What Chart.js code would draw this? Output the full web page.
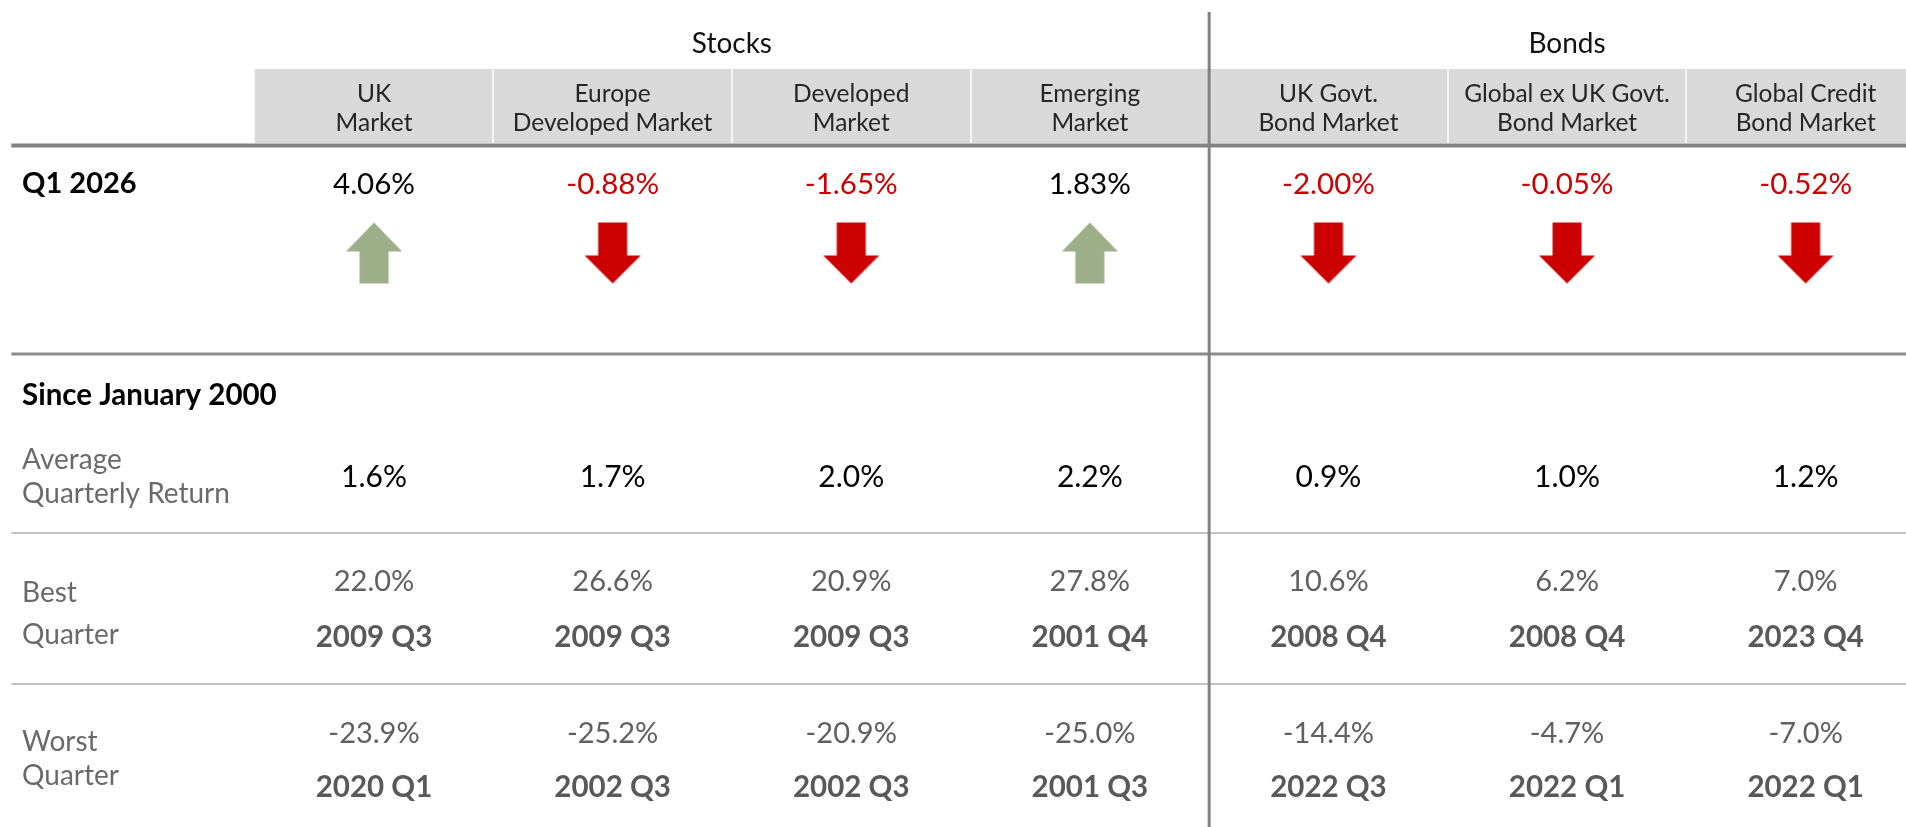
<!DOCTYPE html>
<html>
<head>
<meta charset="utf-8">
<script src="https://cdn.jsdelivr.net/npm/chart.js@4/dist/chart.umd.min.js"></script>
<style>
  html, body { margin: 0; padding: 0; background: #fff; }
  #wrap { width: 1906px; height: 827px; }
</style>
</head>
<body>
<div id="wrap"><canvas id="myChart" width="1906" height="827"></canvas></div>
<script>
// data
const groups = ['Stocks', 'Bonds'];
const groupCols = [[0, 3], [4, 6]];
const markets = [
  ['UK', 'Market'],
  ['Europe', 'Developed Market'],
  ['Developed', 'Market'],
  ['Emerging', 'Market'],
  ['UK Govt.', 'Bond Market'],
  ['Global ex UK Govt.', 'Bond Market'],
  ['Global Credit', 'Bond Market']
];
const q1Returns = [4.06, -0.88, -1.65, 1.83, -2.00, -0.05, -0.52];
const avgQuarterly = [1.6, 1.7, 2.0, 2.2, 0.9, 1.0, 1.2];
const bestQuarter = [22.0, 26.6, 20.9, 27.8, 10.6, 6.2, 7.0];
const bestQuarterDate = ['2009 Q3', '2009 Q3', '2009 Q3', '2001 Q4', '2008 Q4', '2008 Q4', '2023 Q4'];
const worstQuarter = [-23.9, -25.2, -20.9, -25.0, -14.4, -4.7, -7.0];
const worstQuarterDate = ['2020 Q1', '2002 Q3', '2002 Q3', '2001 Q3', '2022 Q3', '2022 Q1', '2022 Q1'];

// layout (y in row units, top = 0)
const rows = {
  group: 44, bandTop: 69, bandBottom: 143, head1: 94, head2: 123,
  rule1: 145.5, q1: 184, arrow: 253, rule2: 354, since: 395,
  avg: 477, avgL1: 460, avgL2: 494, thin1: 533,
  best: 582, bestDate: 637, bestL1: 593, bestL2: 635, thin2: 684,
  worst: 734, worstDate: 787, worstL1: 742, worstL2: 776, bottom: 827
};
const labelX = -1.475;
const ruleX = -1.52;
const FONT = 'Lato, "Noto Sans", sans-serif';
const RED = '#cc0000';
const GREEN = '#9caf88';

function makeArrow(up) {
  const c = document.createElement('canvas');
  c.width = 58; c.height = 63;
  const g = c.getContext('2d');
  g.fillStyle = up ? GREEN : RED;
  g.beginPath();
  if (up) {
    g.moveTo(29, 1); g.lineTo(57, 30); g.lineTo(43.5, 30); g.lineTo(43.5, 62);
    g.lineTo(14.5, 62); g.lineTo(14.5, 30); g.lineTo(1, 30);
  } else {
    g.moveTo(14.5, 1); g.lineTo(43.5, 1); g.lineTo(43.5, 34); g.lineTo(57, 34);
    g.lineTo(29, 62); g.lineTo(1, 34); g.lineTo(14.5, 34);
  }
  g.closePath();
  g.fill();
  return c;
}
const upArrow = makeArrow(true);
const downArrow = makeArrow(false);

const pct = (v, d) => v.toFixed(d) + '%';

const tablePlugin = {
  id: 'tableLayout',
  beforeDatasetsDraw(chart) {
    const { ctx, scales: { x, y }, width } = chart;
    const n = markets.length;
    const L = i => x.getPixelForValue(i - 0.5);
    const top = y.getPixelForValue(rows.bandTop);
    const h = y.getPixelForValue(rows.bandBottom) - top;
    ctx.save();
    // header band
    ctx.fillStyle = '#d9d9d9';
    ctx.fillRect(L(0), top, L(n) - L(0), h);
    ctx.fillStyle = '#f4f4f4';
    for (let i = 1; i < n; i++) {
      ctx.fillRect(Math.round(L(i)) - 1, top, 2, h);
    }
    // rules
    const hline = (yy, w, color) => {
      ctx.fillStyle = color;
      const p = y.getPixelForValue(yy);
      ctx.fillRect(x.getPixelForValue(ruleX), p - w / 2, width, w);
    };
    hline(rows.rule1, 4, '#828282');
    hline(rows.rule2, 3, '#8c8c8c');
    hline(rows.thin1, 2, '#c2c2c2');
    hline(rows.thin2, 2, '#c2c2c2');
    // divider between stocks and bonds
    ctx.fillStyle = '#828282';
    const dx = x.getPixelForValue(groupCols[1][0] - 0.5);
    ctx.fillRect(dx - 1.5, y.getPixelForValue(12), 3, y.getPixelForValue(rows.bottom) - y.getPixelForValue(12));
    ctx.restore();
  },
  afterDatasetsDraw(chart) {
    const { ctx, scales: { x, y } } = chart;
    const text = (s, xv, yv, font, color, align) => {
      ctx.font = font;
      ctx.fillStyle = color;
      ctx.textAlign = align || 'center';
      ctx.textBaseline = 'middle';
      ctx.fillText(s, x.getPixelForValue(xv), y.getPixelForValue(yv));
    };
    ctx.save();
    groups.forEach((g, k) => {
      const mid = (groupCols[k][0] + groupCols[k][1]) / 2;
      text(g, mid, rows.group, '28px ' + FONT, '#111');
    });
    markets.forEach((m, i) => {
      text(m[0], i, rows.head1, '24.5px ' + FONT, '#262626');
      text(m[1], i, rows.head2, '24.5px ' + FONT, '#262626');
      text(pct(q1Returns[i], 2), i, rows.q1, '29.5px ' + FONT, q1Returns[i] < 0 ? RED : '#000');
      text(pct(avgQuarterly[i], 1), i, rows.avg, '30px ' + FONT, '#000');
      text(pct(bestQuarter[i], 1), i, rows.best, '29px ' + FONT, '#606060');
      text(bestQuarterDate[i], i, rows.bestDate, 'bold 29.5px ' + FONT, '#595959');
      text(pct(worstQuarter[i], 1), i, rows.worst, '29px ' + FONT, '#606060');
      text(worstQuarterDate[i], i, rows.worstDate, 'bold 29.5px ' + FONT, '#595959');
    });
    text('Q1 2026', labelX, rows.q1, 'bold 29px ' + FONT, '#000', 'left');
    text('Since January 2000', labelX, rows.since, 'bold 29.5px ' + FONT, '#000', 'left');
    const lab = '28px ' + FONT, labC = '#6a6a6a';
    text('Average', labelX, rows.avgL1, lab, labC, 'left');
    text('Quarterly Return', labelX, rows.avgL2, lab, labC, 'left');
    text('Best', labelX, rows.bestL1, lab, labC, 'left');
    text('Quarter', labelX, rows.bestL2, lab, labC, 'left');
    text('Worst', labelX, rows.worstL1, lab, labC, 'left');
    text('Quarter', labelX, rows.worstL2, lab, labC, 'left');
    ctx.restore();
  }
};

const config = {
  type: 'scatter',
  data: {
    datasets: [{
      label: 'Q1 2026 direction',
      data: q1Returns.map((v, i) => ({ x: i, y: rows.arrow })),
      pointStyle: ctx => q1Returns[ctx.dataIndex] >= 0 ? upArrow : downArrow,
      pointRadius: 30,
      pointHoverRadius: 30
    }]
  },
  options: {
    responsive: false,
    animation: false,
    layout: { padding: 0, autoPadding: false },
    plugins: { legend: { display: false }, tooltip: { enabled: false } },
    scales: {
      x: { type: 'linear', display: false, min: -1.5675, max: 6.4205 },
      y: { type: 'linear', display: false, reverse: true, min: 0, max: rows.bottom }
    }
  },
  plugins: [tablePlugin]
};

const myChart = new Chart(document.getElementById('myChart'), config);
</script>
</body>
</html>
